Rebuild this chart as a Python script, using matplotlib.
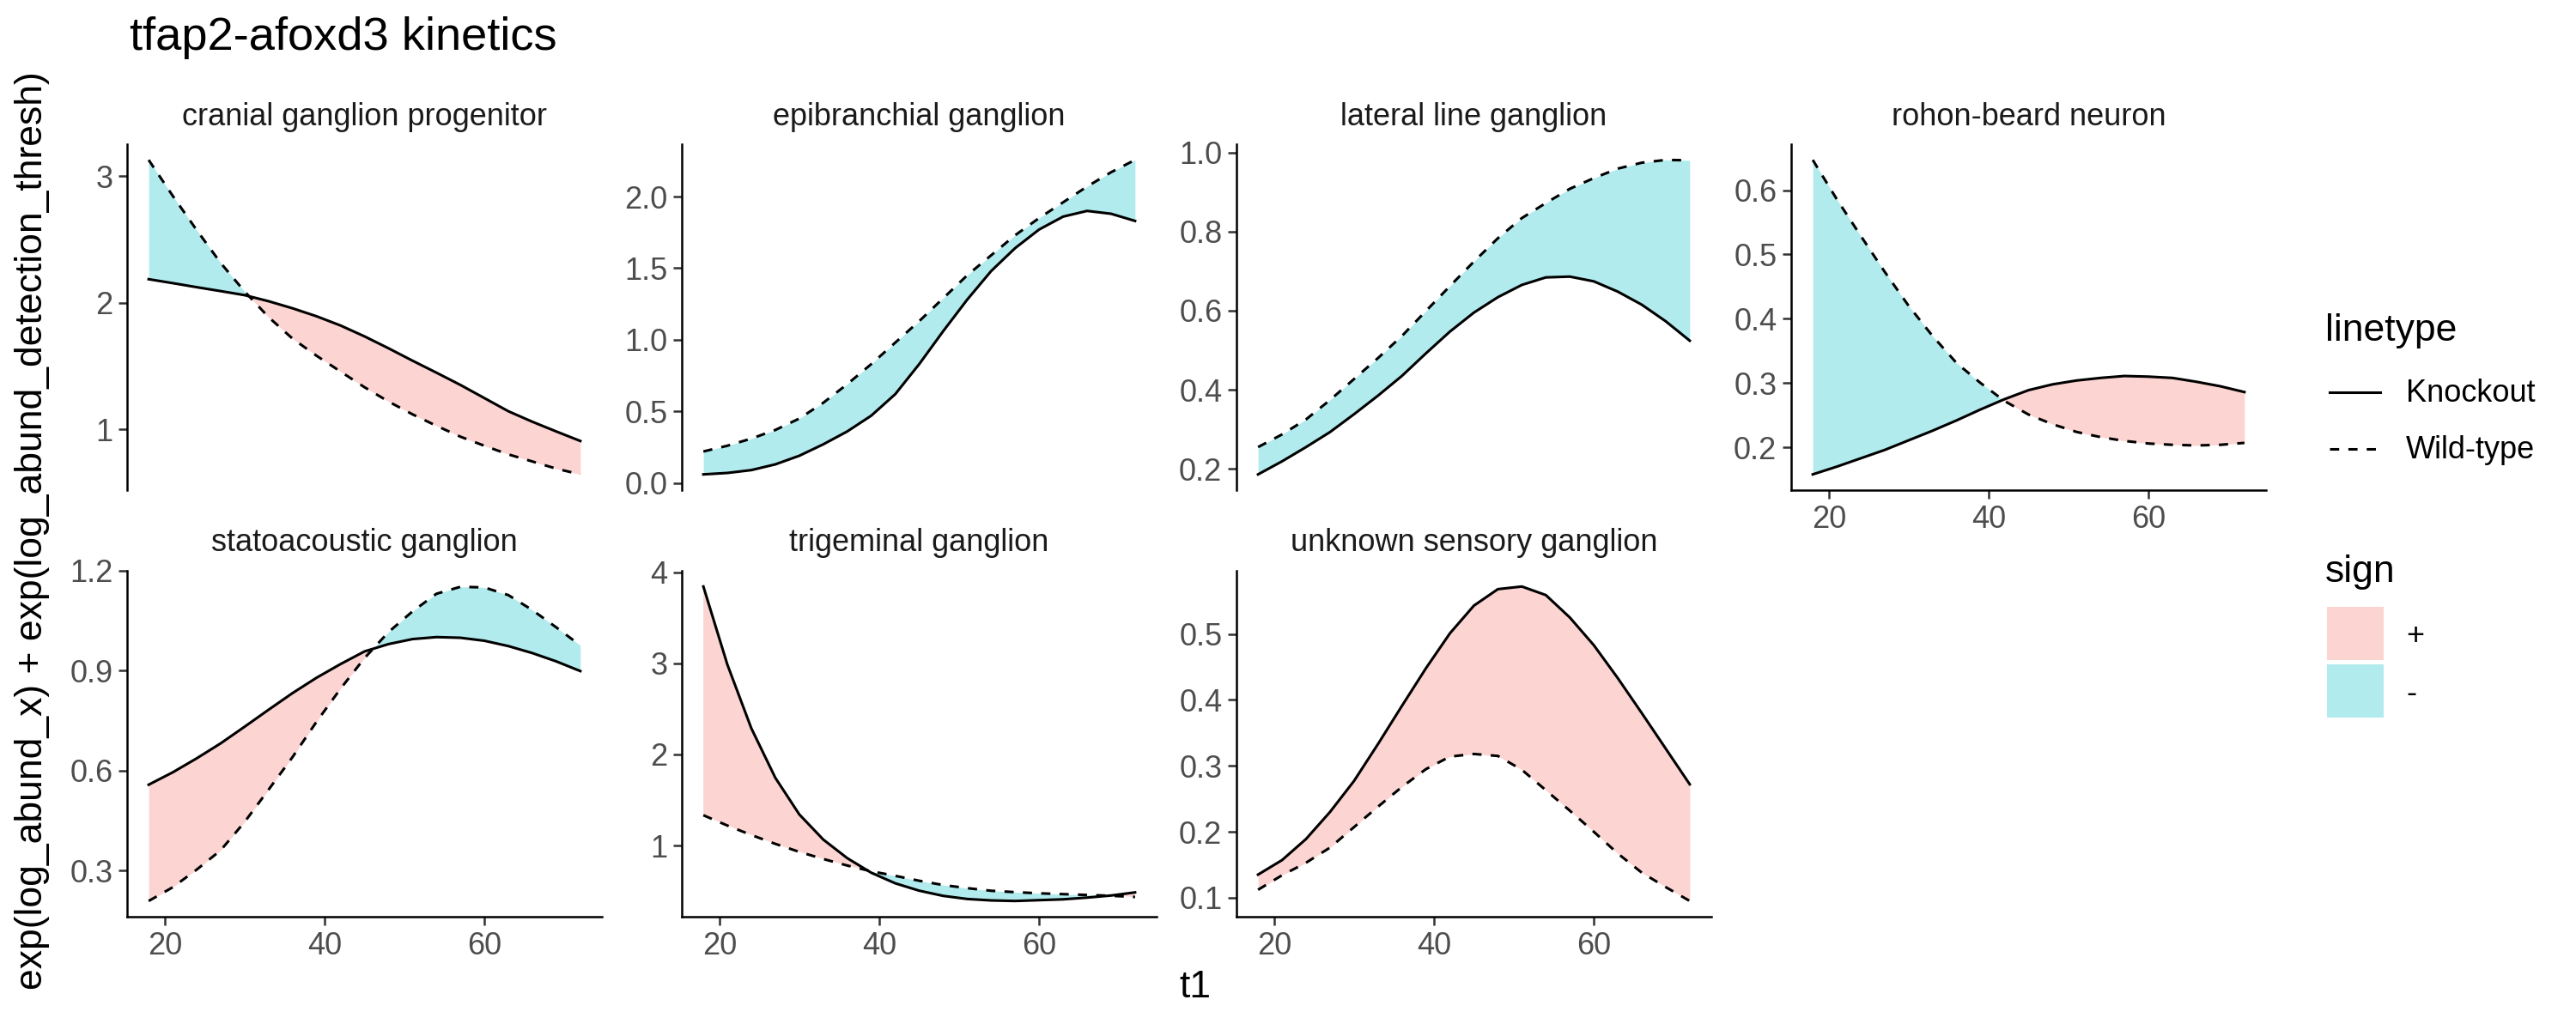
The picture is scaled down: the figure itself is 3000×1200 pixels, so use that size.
import numpy as np
import matplotlib
matplotlib.use('Agg')
import matplotlib.pyplot as plt
from matplotlib.lines import Line2D
from matplotlib.patches import Rectangle

plt.rcParams['font.family'] = ['Liberation Sans', 'DejaVu Sans']

# time points
t1 = [18, 21, 24, 27, 30, 33, 36, 39, 42, 45, 48, 51, 54, 57, 60, 63, 66, 69, 72]

panels = ['cranial ganglion progenitor', 'epibranchial ganglion', 'lateral line ganglion',
          'rohon-beard neuron', 'statoacoustic ganglion', 'trigeminal ganglion',
          'unknown sensory ganglion']

# Knockout (solid)
ko_cranial = [2.186, 2.155, 2.123, 2.092, 2.060, 2.012, 1.956, 1.893, 1.820, 1.734,
              1.640, 1.542, 1.447, 1.350, 1.246, 1.142, 1.059, 0.982, 0.907]
ko_epibranchial = [0.06, 0.07, 0.09, 0.13, 0.19, 0.27, 0.36, 0.47, 0.62, 0.83,
                   1.06, 1.28, 1.48, 1.64, 1.77, 1.86, 1.90, 1.88, 1.83]
ko_lateral = [0.186, 0.219, 0.255, 0.293, 0.338, 0.385, 0.435, 0.492, 0.547, 0.595,
              0.634, 0.665, 0.684, 0.686, 0.674, 0.648, 0.615, 0.573, 0.524]
ko_rohon = [0.158, 0.170, 0.183, 0.196, 0.211, 0.226, 0.242, 0.259, 0.275, 0.289,
            0.298, 0.304, 0.308, 0.311, 0.310, 0.308, 0.302, 0.295, 0.286]
ko_stato = [0.558, 0.595, 0.637, 0.682, 0.732, 0.783, 0.833, 0.879, 0.920, 0.958,
            0.980, 0.995, 1.001, 0.999, 0.990, 0.974, 0.953, 0.928, 0.899]
ko_trigeminal = [3.843, 2.987, 2.287, 1.744, 1.342, 1.066, 0.862, 0.702, 0.586, 0.505,
                 0.448, 0.414, 0.398, 0.392, 0.401, 0.410, 0.429, 0.452, 0.486]
ko_unknown = [0.135, 0.157, 0.189, 0.230, 0.277, 0.333, 0.391, 0.448, 0.501, 0.543,
              0.568, 0.572, 0.559, 0.525, 0.483, 0.433, 0.380, 0.326, 0.272]

# Wild-type (dashed)
wt_cranial = [3.129, 2.846, 2.575, 2.315, 2.089, 1.886, 1.716, 1.581, 1.456, 1.332,
              1.219, 1.118, 1.027, 0.941, 0.869, 0.801, 0.745, 0.688, 0.643]
wt_epibranchial = [0.22, 0.26, 0.31, 0.37, 0.45, 0.56, 0.69, 0.83, 0.98, 1.13,
                   1.29, 1.45, 1.59, 1.73, 1.85, 1.96, 2.07, 2.17, 2.256]
wt_lateral = [0.255, 0.287, 0.325, 0.374, 0.427, 0.480, 0.536, 0.599, 0.662, 0.724,
              0.783, 0.834, 0.872, 0.908, 0.935, 0.959, 0.974, 0.981, 0.980]
wt_rohon = [0.647, 0.586, 0.529, 0.473, 0.420, 0.373, 0.331, 0.300, 0.272, 0.251,
            0.236, 0.224, 0.216, 0.210, 0.206, 0.204, 0.203, 0.204, 0.207]
wt_stato = [0.209, 0.250, 0.303, 0.361, 0.446, 0.543, 0.641, 0.747, 0.846, 0.938,
            1.016, 1.078, 1.131, 1.152, 1.150, 1.127, 1.082, 1.030, 0.976]
wt_trigeminal = [1.333, 1.220, 1.116, 1.019, 0.931, 0.853, 0.781, 0.718, 0.668, 0.614,
                 0.567, 0.533, 0.504, 0.489, 0.476, 0.467, 0.458, 0.449, 0.436]
wt_unknown = [0.112, 0.134, 0.153, 0.176, 0.207, 0.238, 0.268, 0.295, 0.314, 0.318,
              0.315, 0.294, 0.263, 0.232, 0.200, 0.167, 0.138, 0.116, 0.095]

knockout = [ko_cranial, ko_epibranchial, ko_lateral, ko_rohon, ko_stato, ko_trigeminal, ko_unknown]
wildtype = [wt_cranial, wt_epibranchial, wt_lateral, wt_rohon, wt_stato, wt_trigeminal, wt_unknown]

ytick_labels = [['1', '2', '3'],
                ['0.0', '0.5', '1.0', '1.5', '2.0'],
                ['0.2', '0.4', '0.6', '0.8', '1.0'],
                ['0.2', '0.3', '0.4', '0.5', '0.6'],
                ['0.3', '0.6', '0.9', '1.2'],
                ['1', '2', '3', '4'],
                ['0.1', '0.2', '0.3', '0.4', '0.5']]
xtick_labels = ['20', '40', '60']

linetype_labels = ['Knockout', 'Wild-type']
sign_labels = ['+', '-']

pos_fill = '#F8766D'
neg_fill = '#00BFC4'
dash = (0, (3.5, 3.5))

W, H = 3000, 1200
fig = plt.figure(figsize=(15, 6), dpi=200)

lefts = [148, 794, 1440, 2086]
tops = [168, 665]
pw, ph = 553, 403

for i, name in enumerate(panels):
	row, col = i // 4, i % 4
	ax = fig.add_axes([lefts[col] / W, 1 - (tops[row] + ph) / H, pw / W, ph / H])
	x = np.array(t1)
	ko = np.array(knockout[i])
	wt = np.array(wildtype[i])

	ax.fill_between(x, ko, wt, where=ko >= wt, interpolate=True, color=pos_fill, alpha=0.3, lw=0)
	ax.fill_between(x, ko, wt, where=ko <= wt, interpolate=True, color=neg_fill, alpha=0.3, lw=0)
	ax.plot(x, ko, color='black', lw=1.1, ls='-', zorder=3)
	ax.plot(x, wt, color='black', lw=1.1, ls=dash, zorder=3)

	lo = min(ko.min(), wt.min())
	hi = max(ko.max(), wt.max())
	pad = (hi - lo) * 0.05
	ax.set_ylim(lo - pad, hi + pad)
	ax.set_xlim(18 - 2.7, 72 + 2.7)

	yl = ytick_labels[i]
	ax.set_yticks([float(v) for v in yl])
	ax.set_yticklabels(yl)

	ax.spines['top'].set_visible(False)
	ax.spines['right'].set_visible(False)
	ax.spines['left'].set_linewidth(0.9)
	ax.spines['bottom'].set_linewidth(0.9)
	ax.tick_params(axis='both', length=3.5, width=0.9, color='#333333',
	               labelsize=13, labelcolor='#4D4D4D', pad=2.5)

	has_x = row == 1 or i == 3
	if has_x:
		ax.set_xticks([float(v) for v in xtick_labels])
		ax.set_xticklabels(xtick_labels)
	else:
		ax.spines['bottom'].set_visible(False)
		ax.set_xticks([])

	ax.text(0.5, 1 + 32 / ph, name, transform=ax.transAxes, ha='center', va='center',
	        fontsize=13, color='#1A1A1A')

fig.text(151 / W, 1 - 44 / H, 'tfap2-afoxd3 kinetics', ha='left', va='center', fontsize=19.6)
fig.text(1392 / W, 1 - 1151 / H, 't1', ha='center', va='center', fontsize=16)
fig.text(38 / W, 1 - 618 / H, 'exp(log_abund_x) + exp(log_abund_detection_thresh)',
         rotation=90, ha='center', va='center', fontsize=16)

# legends, laid out by hand in pixel units
fig.text(2708 / W, 1 - 397 / H, 'linetype', ha='left', va='baseline', fontsize=16)
for k, (lab, ls) in enumerate(zip(linetype_labels, ['-', dash])):
	yk = [457, 523][k]
	fig.add_artist(Line2D([2713 / W, 2772 / W], [1 - yk / H, 1 - yk / H], color='black',
	                      lw=1.1, ls=ls, transform=fig.transFigure))
	fig.text(2802 / W, 1 - (yk + 11) / H, lab, ha='left', va='baseline', fontsize=13)

fig.text(2708 / W, 1 - 678 / H, 'sign', ha='left', va='baseline', fontsize=16)
for k, (lab, colr) in enumerate(zip(sign_labels, [pos_fill, neg_fill])):
	y0 = [707, 774][k]
	fig.add_artist(Rectangle((2710 / W, 1 - (y0 + 62) / H), 66 / W, 62 / H, facecolor=colr,
	                         alpha=0.3, lw=0, transform=fig.transFigure))
	fig.text(2802 / W, 1 - (y0 + 31) / H, lab, ha='left', va='center_baseline', fontsize=13)

fig.savefig('out.png', dpi=200)
